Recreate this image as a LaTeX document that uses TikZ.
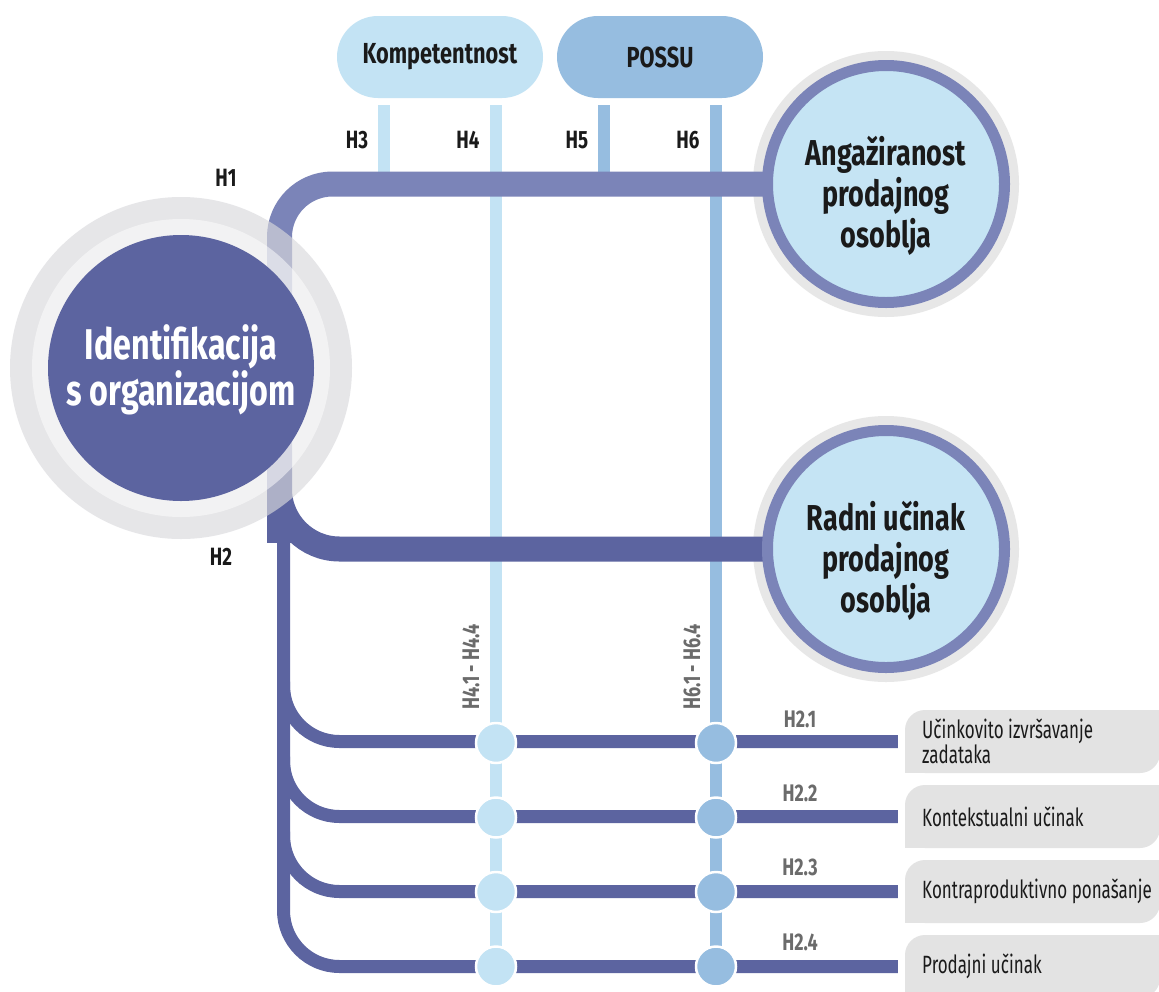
\documentclass[tikz,border=0pt]{standalone}
\usepackage{fontspec}
\setmainfont{Fira Sans}[FakeStretch=0.75]
\newfontfamily\labfont{Fira Sans}[FakeStretch=0.68]
\definecolor{lblue}{HTML}{C3E3F4}
\definecolor{mblue}{HTML}{96BDE0}
\definecolor{cfill}{HTML}{C5E4F4}
\definecolor{lpurp}{HTML}{7B84B8}
\definecolor{dpurp}{HTML}{5C64A0}
\definecolor{ringc}{HTML}{D9D9DC}
\definecolor{ringt}{HTML}{E7E7E7}
\definecolor{boxgray}{HTML}{E3E3E3}
\definecolor{tgray}{HTML}{6B6B6B}
\definecolor{tdark}{HTML}{1A1A1A}
\pgfdeclarelayer{bgw}
\pgfdeclarelayer{l0}
\pgfdeclarelayer{l1}
\pgfsetlayers{bgw,l0,l1,main}
\tikzset{
 band1/.style={draw=lpurp, line width=25pt},
 band2/.style={draw=dpurp, line width=25pt},
 subln/.style={draw=dpurp, line width=13pt},
 vln/.style={line width=12pt},
 pill/.style={rounded corners=41pt, minimum width=206pt, minimum height=82pt, inner sep=0pt, font=\bfseries\fontsize{29}{29}\selectfont, text=tdark},
 target/.style={circle, fill=cfill, draw=lpurp, line width=11pt, minimum size=237pt, inner sep=0pt},
 ttext/.style={align=center, text=tdark, inner sep=0pt, font=\bfseries\fontsize{36}{41}\selectfont},
 jn/.style={circle, minimum size=40pt, inner sep=0pt, draw=white, line width=2.5pt},
 hlab/.style={text=tdark, font=\bfseries\fontsize{25}{25}\selectfont, inner sep=0pt},
 glab/.style={text=tgray, font=\bfseries\fontsize{24}{24}\selectfont, inner sep=0pt},
 vlab/.style={text=tgray, font=\bfseries\fontsize{24}{24}\selectfont, inner sep=0pt, rotate=90},
 obox/.style={fill=boxgray, rounded corners=20pt, minimum width=255pt, minimum height=63pt, inner sep=0pt},
 otext/.style={anchor=west, align=left, text=tdark, inner sep=0pt, font=\labfont\fontsize{25}{21}\selectfont},
}
\begin{document}
\begin{tikzpicture}[x=1pt,y=-1pt]
\useasboundingbox (0,0) rectangle (1159,991);
\begin{pgfonlayer}{bgw}
  \fill[white] (0,0) rectangle (1159,991);
\end{pgfonlayer}

% ---- top pills
\node[pill, fill=lblue] (komp) at (440,57) {Kompetentnost};
\node[pill, fill=mblue] (possu) at (660,57) {POSSU};

% ---- main circle
\coordinate (mc) at (181,368);
\fill[ringc, fill opacity=0.65] (mc) circle (171pt);
\fill[white, fill opacity=0.5] (mc) circle (149pt);
\node[circle, fill=dpurp, minimum size=266pt, inner sep=0pt] (ident) at (mc) {};
\node[align=center, text=white, inner sep=0pt, font=\bfseries\fontsize{43}{46}\selectfont] (identT) at (181,370) {Identifikacija\\s organizacijom};

% ---- target circles
\node[target] (eng) at (886,184) {};
\node[ttext] (engT) at (886,196) {Angažiranost\\prodajnog\\osoblja};
\node[target] (rad) at (886,549) {};
\node[ttext] (radT) at (886,561) {Radni učinak\\prodajnog\\osoblja};

% ---- outcome boxes
\foreach \n/\y in {1/741.5,2/816.5,3/891.5,4/966.5}{
  \node[obox] (o\n) at (1032.5,\y) {};
  \fill[boxgray] (o\n.south west) rectangle ++(25pt,25pt);
  \fill[boxgray] (o\n.north east) rectangle ++(-25pt,-25pt);
}
\node[otext] (o1t) at (922,741.5) {Učinkovito izvršavanje\\zadataka};
\node[otext] (o2t) at (922,816.5) {Kontekstualni učinak};
\node[otext] (o3t) at (922,891.5) {Kontraproduktivno ponašanje};
\node[otext] (o4t) at (922,966.5) {Prodajni učinak};

% ---- junction circles
\foreach \n/\y in {1/743,2/817.5,3/892,4/966.5}{
  \node[jn, fill=lblue] (a\n) at (496,\y) {};
  \node[jn, fill=mblue] (b\n) at (716,\y) {};
}

% ---- labels
\node[hlab] (lh1) at (226,178) {H1};
\node[hlab] (lh2) at (221,557) {H2};
\node[hlab] (lh3) at (357,140) {H3};
\node[hlab] (lh4) at (468,140) {H4};
\node[hlab] (lh5) at (577,140) {H5};
\node[hlab] (lh6) at (688,140) {H6};
\node[glab] (l21) at (800,719) {H2.1};
\node[glab] (l22) at (800,793) {H2.2};
\node[glab] (l23) at (800,867) {H2.3};
\node[glab] (l24) at (800,942) {H2.4};
\node[vlab] (lv4) at (471,667) {H4.1 - H4.4};
\node[vlab] (lv6) at (692,667) {H6.1 - H6.4};

% ---- connectors
\coordinate (h3s) at (384,105);
\coordinate (h4s) at (496,105);
\coordinate (h5s) at (604,105);
\coordinate (h6s) at (716,105);
\coordinate (j1) at (279.5,368);
\coordinate (sv) at (283.5,540);
\begin{pgfonlayer}{l0}
  \fill[ringt] (eng) circle (133pt);
  \fill[ringt] (rad) circle (133pt);
  \draw[vln, lblue] (h3s) -- (h3s |- eng.center);
  \draw[vln, lblue] (h4s) -- (a4.center);
  \draw[vln, mblue] (h5s) -- (h5s |- eng.center);
  \draw[vln, mblue] (h6s) -- (b4.center);
  \draw[subln, rounded corners=56pt] (sv) |- ([xshift=-7pt]o4.west);
  \foreach \n in {1,2,3}{
    \draw[subln, rounded corners=56pt] ([yshift=60pt]sv |- o\n.west) |- ([xshift=-7pt]o\n.west);
  }
\end{pgfonlayer}
\begin{pgfonlayer}{l1}
  \draw[band1, rounded corners=53pt] (j1) |- (eng.center);
  \draw[band2, rounded corners=60pt] (j1) |- (rad.center);
  \fill[dpurp] (267,368) rectangle (292,543);
\end{pgfonlayer}
\end{tikzpicture}
\end{document}
